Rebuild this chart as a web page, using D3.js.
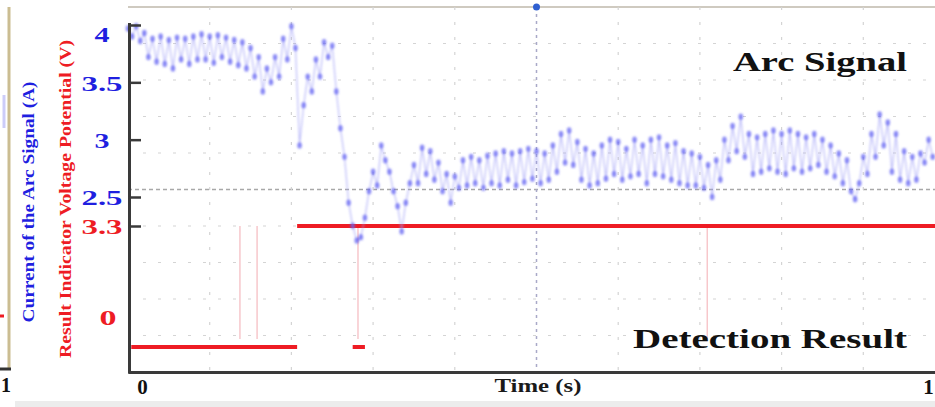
<!DOCTYPE html>
<html>
<head>
<meta charset="utf-8">
<script src="https://cdn.jsdelivr.net/npm/d3@7"></script>
<style>
  html, body { margin: 0; padding: 0; background: #fff; }
  svg { display: block; }
  .serif { font-family: "Liberation Serif", "Times New Roman", "DejaVu Serif", serif; font-weight: bold; }
</style>
</head>
<body>
<svg id="chart" width="935" height="407"></svg>
<script>
// ---------------- data ----------------
const timeStep = 0.005;            // sampling interval of the arc-signal trace (normalised time)
const arcCurrent = [               // current of the arc signal (A)
  3.97, 3.9, 3.99, 3.86,
  3.93, 3.72, 3.88, 3.68, 3.9, 3.66, 3.87, 3.62, 3.89, 3.7, 3.88, 3.66, 3.9, 3.7,
  3.92, 3.7, 3.9, 3.67, 3.91, 3.72, 3.89, 3.68, 3.87, 3.65, 3.85, 3.62,
  3.8, 3.55, 3.72, 3.42,
  3.62, 3.5, 3.72, 3.55,
  3.88, 3.7, 3.99, 3.8,
  2.95, 3.3,
  3.55, 3.42, 3.7, 3.55, 3.85, 3.72,
  3.82, 3.42, 3.1, 2.85, 2.45, 2.25, 2.12, 2.15, 2.32, 2.55,
  2.72, 2.6, 2.95, 2.82, 2.72, 2.55, 2.42, 2.2, 2.45, 2.62,
  2.78, 2.62, 2.93, 2.7, 2.9, 2.65, 2.8, 2.55, 2.7, 2.45,
  2.68, 2.58, 2.82, 2.6, 2.85, 2.62, 2.82, 2.58, 2.86, 2.62,
  2.88, 2.6, 2.9, 2.65, 2.88, 2.6, 2.9, 2.63, 2.92, 2.66,
  2.9, 2.62, 2.88, 2.65, 2.95, 2.72, 3.05, 2.8, 3.08, 2.78,
  2.98, 2.65, 2.92, 2.6, 2.88, 2.62, 2.95, 2.66, 3.0, 2.7,
  2.98, 2.65, 2.92, 2.68, 3.0, 2.7, 2.95, 2.62, 3.0, 2.7,
  3.02, 2.68, 2.95, 2.65, 2.97, 2.62, 2.9, 2.6, 2.88, 2.6,
  2.85, 2.58, 2.78, 2.5, 2.82, 2.65, 3.0, 2.82, 3.12, 2.9,
  3.2, 2.85, 3.05, 2.7, 3.02, 2.72, 3.05, 2.75, 3.08, 2.72,
  3.05, 2.7, 3.08, 2.75, 3.05, 2.72, 3.02, 2.75, 3.05, 2.78,
  3.0, 2.72, 2.95, 2.68, 2.88, 2.62, 2.82, 2.55, 2.48, 2.62,
  2.85, 2.7, 3.05, 2.85, 3.22, 2.95, 3.15, 2.72, 3.05, 2.65,
  2.9, 2.62, 2.85, 2.65, 2.88, 2.8, 3.0, 2.85
];
// detection result: indicator voltage levels (V) over time intervals
const resultStart = [0.004, 0.207, 0.275];
const resultEnd   = [0.207, 1.0,   0.290];
const resultLevel = [0,     3.3,   0];
// brief pulses of the indicator (faint transitions)
const pulseTimes = [0.137, 0.158, 0.2815, 0.709];

const currentTicks = [4, 3.5, 3, 2.5];
const voltageTicks = [3.3, 0];
const timeTicks = [0, 1];
const cursorTime = 0.5;

const currentAxisTitle = "Current of the Arc Signal (A)";
const voltageAxisTitle = "Result Indicator Voltage Potential (V)";
const timeAxisTitle = "Time (s)";
const arcLabel = "Arc Signal";
const detectionLabel = "Detection Result";

// ---------------- layout ----------------
const W = 935, H = 407;
const plot = { left: 128, right: 945, top: 7, bottom: 372 };
const svg = d3.select("#chart");

const x = d3.scaleLinear().domain([0, 1]).range([plot.left, plot.right]);
const yCur = d3.scaleLinear().domain([2.5, 4]).range([197, 25]);
const yVolt = d3.scaleLinear().domain([0, 3.3]).range([347, 226]);
const yGrid = d3.scaleLinear().domain([0, 10]).range([plot.bottom, plot.top]);

const BLUE = "#1f1fe0", RED = "#ee1c24";

// ---------------- neighbouring panel remnants ----------------
svg.append("line").attr("x1", 9).attr("x2", 9).attr("y1", 7).attr("y2", 370)
  .attr("stroke", "#cbbd92").attr("stroke-width", 3);
svg.append("line").attr("x1", 0).attr("x2", 11).attr("y1", 369).attr("y2", 369)
  .attr("stroke", "#333").attr("stroke-width", 3);
svg.append("line").attr("x1", 0).attr("x2", 4).attr("y1", 316).attr("y2", 316)
  .attr("stroke", RED).attr("stroke-width", 3);
svg.append("line").attr("x1", 4).attr("x2", 4).attr("y1", 95).attr("y2", 128)
  .attr("stroke", "#9a9af5").attr("stroke-width", 3).attr("opacity", 0.5);
svg.append("text").attr("class", "serif").attr("x", 1).attr("y", 392)
  .attr("text-anchor", "start").attr("font-size", 20).attr("fill", "#111").text("1");
// bottom grey strip
svg.append("rect").attr("x", 15).attr("y", 401).attr("width", W - 15).attr("height", 6)
  .attr("fill", "#ececec");
// top border of the plot
svg.append("line").attr("x1", plot.left).attr("x2", W).attr("y1", plot.top).attr("y2", plot.top)
  .attr("stroke", "#cfcac0").attr("stroke-width", 2);

// ---------------- grid ----------------
const gridG = svg.append("g");
gridG.selectAll("line.h").data(d3.range(1, 10)).join("line")
  .attr("x1", plot.left).attr("x2", W)
  .attr("y1", d => yGrid(d)).attr("y2", d => yGrid(d))
  .attr("stroke", d => d === 5 ? "#a8a8a8" : "#d4d4d4")
  .attr("stroke-width", d => d === 5 ? 1.5 : 1.2)
  .attr("stroke-dasharray", d => d === 5 ? "4,3" : "3,12");
gridG.selectAll("line.v").data(x.ticks(10).filter(d => d > 0 && d < 1)).join("line")
  .attr("x1", d => x(d)).attr("x2", d => x(d))
  .attr("y1", plot.top).attr("y2", plot.bottom)
  .attr("stroke", d => d === cursorTime ? "#a9a9c8" : "#d4d4d4")
  .attr("stroke-width", d => d === cursorTime ? 1.5 : 1.2)
  .attr("stroke-dasharray", d => d === cursorTime ? "3,4" : "3,12");
svg.append("circle").attr("cx", x(cursorTime)).attr("cy", plot.top).attr("r", 3.5).attr("fill", "#2f5fd0");

// ---------------- detection result (red) ----------------
const redG = svg.append("g");
redG.selectAll("line.pulse").data(pulseTimes).join("line")
  .attr("x1", d => x(d)).attr("x2", d => x(d))
  .attr("y1", yVolt(3.3)).attr("y2", yVolt(0) - 8)
  .attr("stroke", "#f4b0b6").attr("stroke-width", 1.5).attr("opacity", 0.7);
redG.selectAll("line.seg").data(resultLevel).join("line")
  .attr("x1", (d, i) => x(resultStart[i])).attr("x2", (d, i) => x(resultEnd[i]))
  .attr("y1", d => yVolt(d)).attr("y2", d => yVolt(d))
  .attr("stroke", RED).attr("stroke-width", 4);

// ---------------- arc signal (blue) ----------------
const blur = svg.append("defs").append("filter").attr("id", "soft")
  .attr("x", "-5%").attr("y", "-5%").attr("width", "110%").attr("height", "110%");
blur.append("feGaussianBlur").attr("stdDeviation", 0.9);
const arcG = svg.append("g").attr("filter", "url(#soft)");
const arcLine = d3.line().x((d, i) => x(i * timeStep)).y(d => yCur(d));
arcG.append("path").attr("d", arcLine(arcCurrent))
  .attr("fill", "none").attr("stroke", "#9a9af7").attr("stroke-width", 1.3).attr("opacity", 0.6);
arcG.selectAll("ellipse").data(arcCurrent).join("ellipse")
  .attr("cx", (d, i) => x(i * timeStep)).attr("cy", d => yCur(d))
  .attr("rx", 2.3).attr("ry", 3.2).attr("fill", "#5e5ef2").attr("opacity", 0.7);

// ---------------- axes ----------------
const axisColor = "#3a3a3a";
// bottom axis
const xAxis = svg.append("g").attr("transform", `translate(0,${plot.bottom})`)
  .call(d3.axisBottom(x).tickValues(timeTicks).tickSize(0).tickFormat(d3.format("d")));
xAxis.select(".domain").attr("stroke", axisColor).attr("stroke-width", 3);
xAxis.selectAll("text").attr("class", "serif").attr("font-size", 21).attr("fill", "#111")
  .attr("dy", "0.9em").attr("dx", d => d === 0 ? 14 : -17);

// left spine
svg.append("line").attr("x1", plot.left + 1.5).attr("x2", plot.left + 1.5)
  .attr("y1", 23).attr("y2", plot.bottom + 1.5)
  .attr("stroke", axisColor).attr("stroke-width", 3);

// current axis (blue labels)
const curAxis = svg.append("g").attr("transform", `translate(${plot.left},0)`)
  .call(d3.axisLeft(yCur).tickValues(currentTicks).tickSize(-13).tickFormat(d3.format("")));
curAxis.select(".domain").remove();
curAxis.selectAll(".tick line").attr("stroke", axisColor).attr("stroke-width", 2.5);
curAxis.selectAll("text").attr("class", "serif").attr("font-size", 22).attr("fill", BLUE)
  .attr("text-anchor", "middle").attr("x", -26)
  .attr("dy", d => d === 4 ? "0.75em" : "0.35em")
  .attr("textLength", d => String(d).length > 1 ? 41 : 15)
  .attr("lengthAdjust", "spacingAndGlyphs");

// voltage axis (red labels)
const voltAxis = svg.append("g").attr("transform", `translate(${plot.left},0)`)
  .call(d3.axisLeft(yVolt).tickValues(voltageTicks).tickSize(-13).tickFormat(d3.format("")));
voltAxis.select(".domain").remove();
voltAxis.selectAll(".tick line").attr("stroke", axisColor).attr("stroke-width", 2.5)
  .attr("opacity", d => d === 0 ? 0 : 1);
voltAxis.selectAll("text").attr("class", "serif").attr("font-size", 22).attr("fill", RED)
  .attr("text-anchor", "middle")
  .attr("x", d => d === 0 ? -20 : -26)
  .attr("y", d => d === 0 ? -30 : 0)
  .attr("dy", "0.35em")
  .attr("textLength", d => String(d).length > 1 ? 41 : 17)
  .attr("lengthAdjust", "spacingAndGlyphs");

// axis titles
svg.append("text").attr("class", "serif")
  .attr("transform", "translate(34,202) rotate(-90)")
  .attr("text-anchor", "middle").attr("font-size", 17).attr("fill", BLUE)
  .attr("textLength", 241).attr("lengthAdjust", "spacingAndGlyphs")
  .text(currentAxisTitle);
svg.append("text").attr("class", "serif")
  .attr("transform", "translate(71,199) rotate(-90)")
  .attr("text-anchor", "middle").attr("font-size", 17).attr("fill", RED)
  .attr("textLength", 318).attr("lengthAdjust", "spacingAndGlyphs")
  .text(voltageAxisTitle);
svg.append("text").attr("class", "serif")
  .attr("x", 538).attr("y", 392).attr("text-anchor", "middle")
  .attr("font-size", 18).attr("fill", "#1a1a1a")
  .attr("textLength", 87).attr("lengthAdjust", "spacingAndGlyphs")
  .text(timeAxisTitle);

// in-plot labels
svg.append("text").attr("class", "serif")
  .attr("x", 733).attr("y", 71).attr("font-size", 27).attr("fill", "#111")
  .attr("textLength", 174).attr("lengthAdjust", "spacingAndGlyphs")
  .text(arcLabel);
svg.append("text").attr("class", "serif")
  .attr("x", 633).attr("y", 348).attr("font-size", 27).attr("fill", "#111")
  .attr("textLength", 274).attr("lengthAdjust", "spacingAndGlyphs")
  .text(detectionLabel);
</script>
</body>
</html>
